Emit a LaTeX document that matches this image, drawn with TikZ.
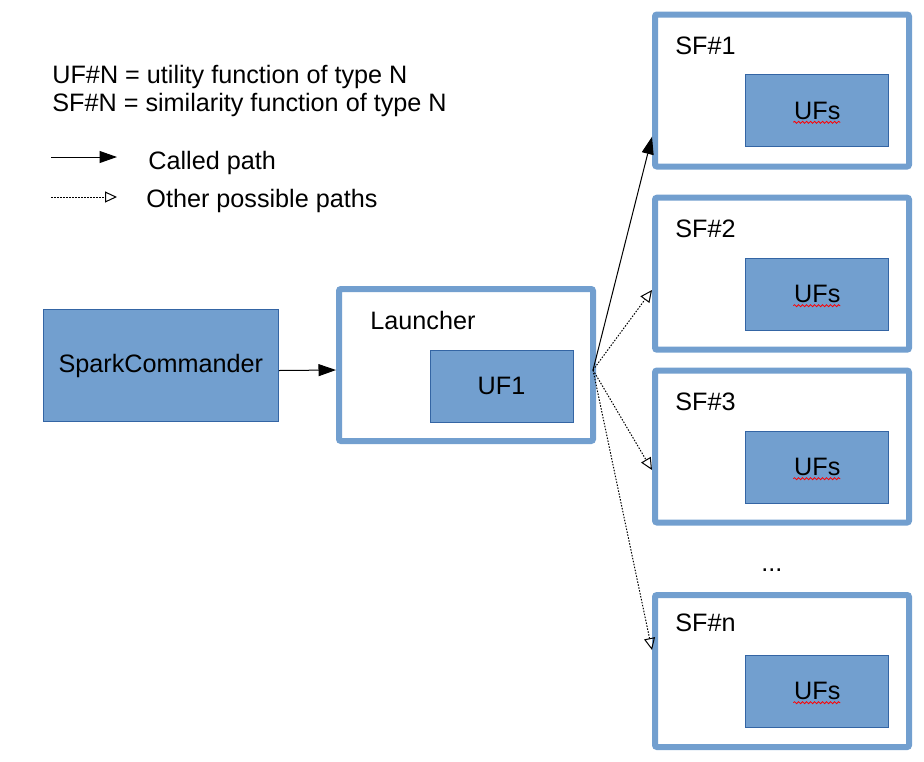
\documentclass[tikz,border=0pt]{standalone}
\usepackage{fontspec}
\setmainfont{Liberation Sans}
\usetikzlibrary{arrows.meta,decorations.pathmorphing}
\definecolor{boxblue}{HTML}{729FCF}
\definecolor{edgeblue}{HTML}{3465A4}

\begin{document}
\begin{tikzpicture}[x=0.5pt,y=-0.5pt,
		font=\fontsize{12.6}{15}\selectfont,
		outerbox/.style={draw=boxblue,line width=3pt,fill=white,rounded corners=1pt,minimum width=127pt,minimum height=76pt,inner sep=0pt},
		innerbox/.style={draw=edgeblue,line width=0.5pt,fill=boxblue,minimum width=71.5pt,minimum height=36pt,inner sep=0pt},
		lbl/.style={anchor=base west,inner sep=0pt},
		called/.style={line width=0.5pt,-{Triangle[length=8.75pt,width=6pt]}},
		possible/.style={line width=0.5pt,dash pattern=on 0.75pt off 0.75pt,-{Triangle[open,length=6pt,width=5.5pt]}},
		spell/.style={draw=red,line width=0.4pt,decorate,decoration={snake,amplitude=0.5pt,segment length=2pt}}]
		\useasboundingbox (0,0) rectangle (924,761);

		\node[lbl] (keyuf) at (52,83) {UF\#N = utility function of type N};
		\node[lbl] (keysf) at (52,111) {SF\#N = similarity function of type N};
		\coordinate (calledfrom) at (51,157);
		\coordinate (calledto) at (117,157);
		\coordinate (possiblefrom) at (51,197);
		\coordinate (possibleto) at (117,197);
		\draw[called] (calledfrom) -- (calledto);
		\draw[possible] (possiblefrom) -- (possibleto);
		\node[lbl] (keycalled) at (148,169) {Called path};
		\node[lbl] (keypossible) at (146,207) {Other possible paths};

		\node[innerbox,minimum width=117.5pt,minimum height=56pt] (spark) at (160.8,365.5) {SparkCommander};

		\node[outerbox] (launcher) at (466,365) {};
		\node[lbl] (launchername) at (370,329) {Launcher};
		\node[innerbox] (uf1) at (501.5,386) {UF1};

		\node[outerbox] (sf1) at (782,90.5) {};
		\node[lbl] (sf1name) at (675,54) {SF\#1};
		\node[innerbox] (ufs1) at (817.3,110.8) {UFs};

		\node[outerbox] (sf2) at (782,273.7) {};
		\node[lbl] (sf2name) at (675,237.3) {SF\#2};
		\node[innerbox] (ufs2) at (817.3,294.2) {UFs};

		\node[outerbox] (sf3) at (782,446.5) {};
		\node[lbl] (sf3name) at (675,410.7) {SF\#3};
		\node[innerbox] (ufs3) at (817.3,467.2) {UFs};

		\node[lbl] (dots) at (761,571) {...};

		\node[outerbox] (sfn) at (782,671) {};
		\node[lbl] (sfnname) at (675,631.7) {SF\#n};
		\node[innerbox] (ufsn) at (817.3,691.2) {UFs};

		\draw[spell] ([xshift=-12pt,yshift=-5.75pt]ufs1.center) -- ([xshift=11.5pt,yshift=-5.75pt]ufs1.center);
		\draw[spell] ([xshift=-12pt,yshift=-5.75pt]ufs2.center) -- ([xshift=11.5pt,yshift=-5.75pt]ufs2.center);
		\draw[spell] ([xshift=-12pt,yshift=-5.75pt]ufs3.center) -- ([xshift=11.5pt,yshift=-5.75pt]ufs3.center);
		\draw[spell] ([xshift=-12pt,yshift=-5.75pt]ufsn.center) -- ([xshift=11.5pt,yshift=-5.75pt]ufsn.center);

		\draw[called] ([yshift=-2.5pt]spark.east) -- ([yshift=-2.5pt]launcher.west);
		\coordinate (fork) at ([xshift=-1.5pt,yshift=-2.5pt]launcher.east);
		\draw[called] (fork) -- ([yshift=-23.1pt]sf1.west);
		\draw[possible] (fork) -- ([yshift=-8.15pt]sf2.west);
		\draw[possible] (fork) -- ([yshift=-11.75pt]sf3.west);
		\draw[possible] (fork) -- ([yshift=10.5pt]sfn.west);
\end{tikzpicture}
\end{document}
